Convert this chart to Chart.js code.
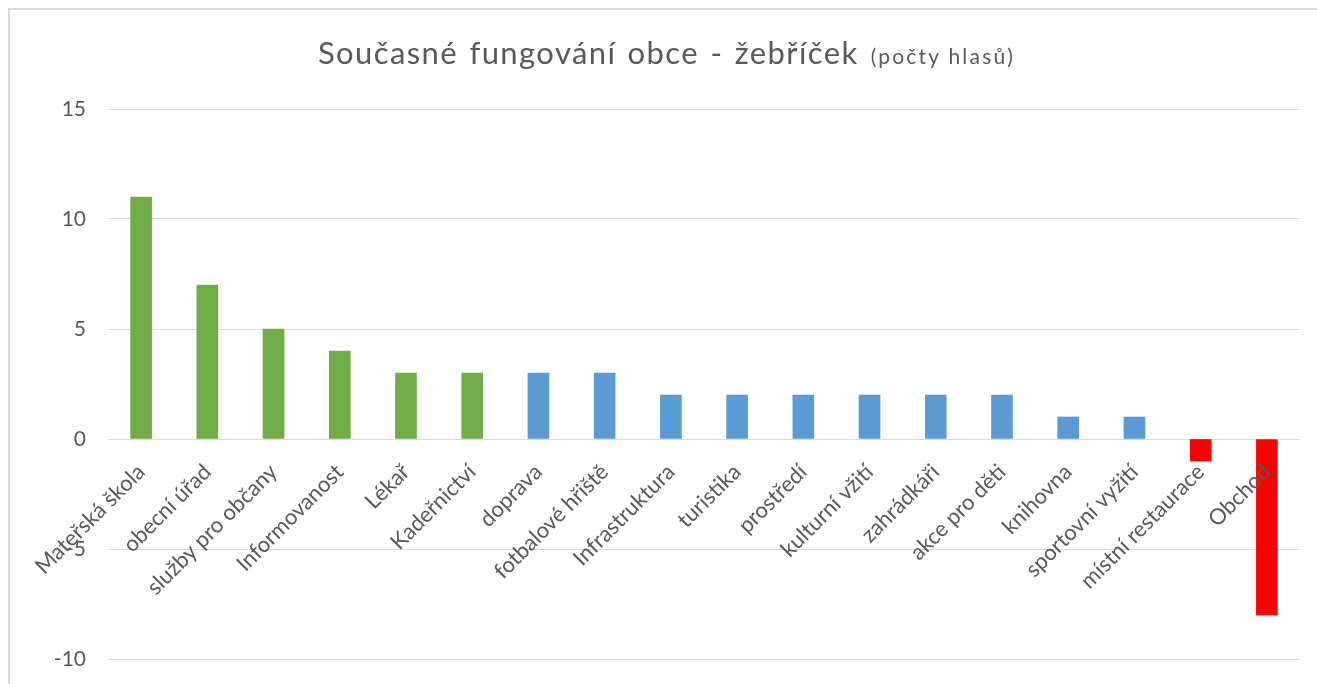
<!DOCTYPE html>
<html>
<head>
<meta charset="utf-8">
<script src="https://cdn.jsdelivr.net/npm/chart.js@4"></script>
<style>
  html, body { margin: 0; padding: 0; background: #fff; }
  #wrap { position: relative; width: 1317px; height: 684px; overflow: hidden; }
  #frame { position: absolute; left: 8px; top: 8px; width: 1400px; height: 800px;
           border-left: 2px solid #d9d9d9; border-top: 2px solid #d9d9d9; }
  #title { position: absolute; left: 318px; top: 32px;
           font-family: Lato, "Open Sans", sans-serif; color: #595959; white-space: nowrap; line-height: 40px; }
  #title .main { font-size: 31px; letter-spacing: 1.4px; word-spacing: 2px; }
  #title .sub { font-size: 21px; letter-spacing: 2.2px; margin-left: 12px; }
  canvas { position: absolute; left: 0; top: 0; }
</style>
</head>
<body>
<div id="wrap">
  <div id="frame"></div>
  <canvas id="c" width="1317" height="684"></canvas>
  <div id="title"><span class="main">Současné fungování obce - žebříček</span><span class="sub">(počty hlasů)</span></div>
</div>
<script>
const categories = ["Mateřská škola", "obecní úřad", "služby pro občany", "Informovanost", "Lékař", "Kadeřnictví", "doprava", "fotbalové hřiště", "Infrastruktura", "turistika", "prostředí", "kulturní vžití", "zahrádkáři", "akce pro děti", "knihovna", "sportovní vyžití", "místní restaurace", "Obchod"];
const votes = [11, 7, 5, 4, 3, 3, 3, 3, 2, 2, 2, 2, 2, 2, 1, 1, -1, -8];
const barColors = ["#70AD47", "#70AD47", "#70AD47", "#70AD47", "#70AD47", "#70AD47",
  "#5B9BD5", "#5B9BD5", "#5B9BD5", "#5B9BD5", "#5B9BD5", "#5B9BD5", "#5B9BD5", "#5B9BD5", "#5B9BD5", "#5B9BD5",
  "#FF0000", "#FF0000"];
const yTicks = [-10, -5, 0, 5, 10, 15];

new Chart(document.getElementById('c'), {
  type: 'bar',
  data: {
    labels: categories,
    datasets: [{ data: votes, backgroundColor: barColors, borderWidth: 0, barThickness: 21 }]
  },
  options: {
    responsive: false,
    animation: false,
    layout: { padding: { left: 0, top: 109, right: 17, bottom: 25 } },
    plugins: { legend: { display: false }, tooltip: { enabled: false }, title: { display: false } },
    scales: {
      x: {
        position: { y: 0 },
        grid: { display: false, drawTicks: false },
        border: { display: false },
        ticks: {
          z: 1,
          autoSkip: false, maxRotation: 45, minRotation: 45, padding: 20,
          color: '#595959', font: { family: 'Lato', size: 22 }
        }
      },
      y: {
        min: yTicks[0], max: yTicks[yTicks.length - 1],
        afterBuildTicks: s => { s.ticks = yTicks.map(v => ({ value: v })); },
        afterFit: s => { s.width = 108; s.paddingTop = 0; s.paddingBottom = 0; },
        grid: { color: '#d9d9d9', lineWidth: 1, drawTicks: false },
        border: { display: false },
        ticks: { padding: 22, color: '#595959', font: { family: 'Lato', size: 21 } }
      }
    }
  }
});
</script>
</body>
</html>
